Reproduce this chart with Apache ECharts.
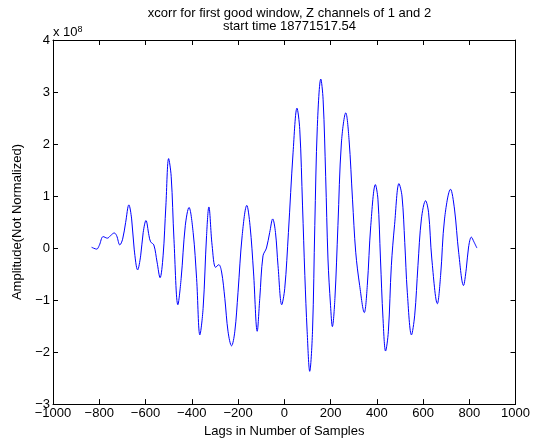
<!DOCTYPE html>
<html>
<head>
<meta charset="utf-8">
<script src="https://cdn.jsdelivr.net/npm/echarts@6/dist/echarts.min.js"></script>
<style>html,body{margin:0;padding:0;background:#fff}#c{width:533px;height:443px}</style>
</head>
<body>
<div id="c"></div>
<script>
// lags (samples) and amplitude in units of 1e8
const lags = [-833,-811,-800,-783,-765,-751,-735,-725,-711,-699,-686,-672,-660,-649,-634,-621,-610,-598,-585,-578,-564,-550,-537,-524,-512,-500,-489,-477,-460,-446,-428,-412,-394,-379,-365,-351,-336,-326,-312,-297,-283,-271,-257,-243,-228,-214,-200,-182,-162,-148,-133,-117,-106,-92,-77,-63,-50,-38,-27,-11,2,18,38,55,67,79,89,99,110,122,132,143,158,168,179,189,200,208,219,232,247,266,280,295,309,326,346,359,374,394,405,416,427,438,450,463,477,496,509,521,532,550,564,578,593,611,624,638,662,676,693,719,736,754,775,787,797,809,820,833];
const amps = [0.015,-0.02,0.05,0.22,0.19,0.24,0.29,0.24,0.06,0.17,0.49,0.83,0.56,-0.02,-0.42,-0.15,0.30,0.53,0.24,0.12,0.06,-0.27,-0.57,-0.15,0.81,1.72,1.38,0.17,-1.09,-0.59,0.43,0.78,0.30,-0.59,-1.67,-1.16,0.24,0.79,0.05,-0.37,-0.32,-0.46,-0.97,-1.61,-1.88,-1.61,-0.85,0.24,0.82,0.43,-0.46,-1.60,-0.97,-0.15,0.00,0.30,0.56,0.30,-0.34,-1.09,-0.78,0.30,1.83,2.69,2.28,0.81,-0.53,-1.61,-2.37,-1.61,0.43,2.34,3.25,2.85,1.38,-0.21,-1.10,-1.51,-0.97,0.43,2.02,2.60,2.09,0.94,-0.08,-0.72,-1.24,-0.72,0.43,1.22,0.94,-0.21,-1.36,-1.98,-1.61,-0.34,0.45,1.24,1.00,0.11,-0.85,-1.67,-1.29,-0.34,0.56,0.91,0.68,-0.21,-1.07,-0.53,0.56,1.13,0.75,-0.08,-0.72,-0.40,0.02,0.21,0.12,0.00];
const xTicks = [-1000,-800,-600,-400,-200,0,200,400,600,800,1000];
const yTicks = [-3,-2,-1,0,1,2,3,4];

const data = lags.map((l,i)=>[l,amps[i]]);
const font = 'Liberation Sans, Arial, sans-serif';
const fs = 13;
const chart = echarts.init(document.getElementById('c'));
const minus = v => String(v).replace('-', '\u2212');
const axisCommon = {
  axisLine:{show:true,onZero:false,lineStyle:{color:'#000',width:1}},
  axisTick:{show:true,inside:true,length:5,lineStyle:{color:'#000'}},
  splitLine:{show:false}
};
chart.setOption({
  animation:false,
  backgroundColor:'#fff',
  title:{
    text:'xcorr for first good window, Z channels of 1 and 2\nstart time 18771517.54',
    left:284.5, top:2, textAlign:'center',
    textStyle:{fontFamily:font,fontSize:fs,fontWeight:'normal',color:'#000',lineHeight:13}
  },
  grid:{left:53,right:17,top:40,bottom:37},
  xAxis:[
    Object.assign({type:'value',min:xTicks[0],max:xTicks[xTicks.length-1],interval:200,position:'bottom',
      name:'Lags in Number of Samples',nameLocation:'middle',nameGap:20,
      nameTextStyle:{fontFamily:font,fontSize:fs,color:'#000'},
      axisLabel:{fontFamily:font,fontSize:fs,color:'#000',margin:3,formatter:minus}},axisCommon),
    Object.assign({type:'value',min:xTicks[0],max:xTicks[xTicks.length-1],interval:200,position:'top',
      axisLabel:{show:false}},axisCommon)
  ],
  yAxis:[
    Object.assign({type:'value',min:yTicks[0],max:yTicks[yTicks.length-1],interval:1,position:'left',
      name:'Amplitude(Not Normalized)',nameLocation:'middle',nameGap:23,
      nameTextStyle:{fontFamily:font,fontSize:fs,color:'#000'},
      axisLabel:{fontFamily:font,fontSize:fs,color:'#000',margin:3,formatter:minus}},axisCommon),
    Object.assign({type:'value',min:yTicks[0],max:yTicks[yTicks.length-1],interval:1,position:'right',
      axisLabel:{show:false}},axisCommon)
  ],
  graphic:[{
    type:'text',left:53,top:25,
    style:{text:'x 10{s|8}',rich:{s:{fontSize:9,verticalAlign:'top',padding:[0,0,6,0],fontFamily:font}},
      fontFamily:font,fontSize:fs,fill:'#000'}
  }],
  series:[{
    type:'line',data:data,xAxisIndex:0,yAxisIndex:0,showSymbol:false,smooth:0.35,
    lineStyle:{color:'#0000ff',width:1},itemStyle:{color:'#0000ff'}
  }]
});
</script>
</body>
</html>
